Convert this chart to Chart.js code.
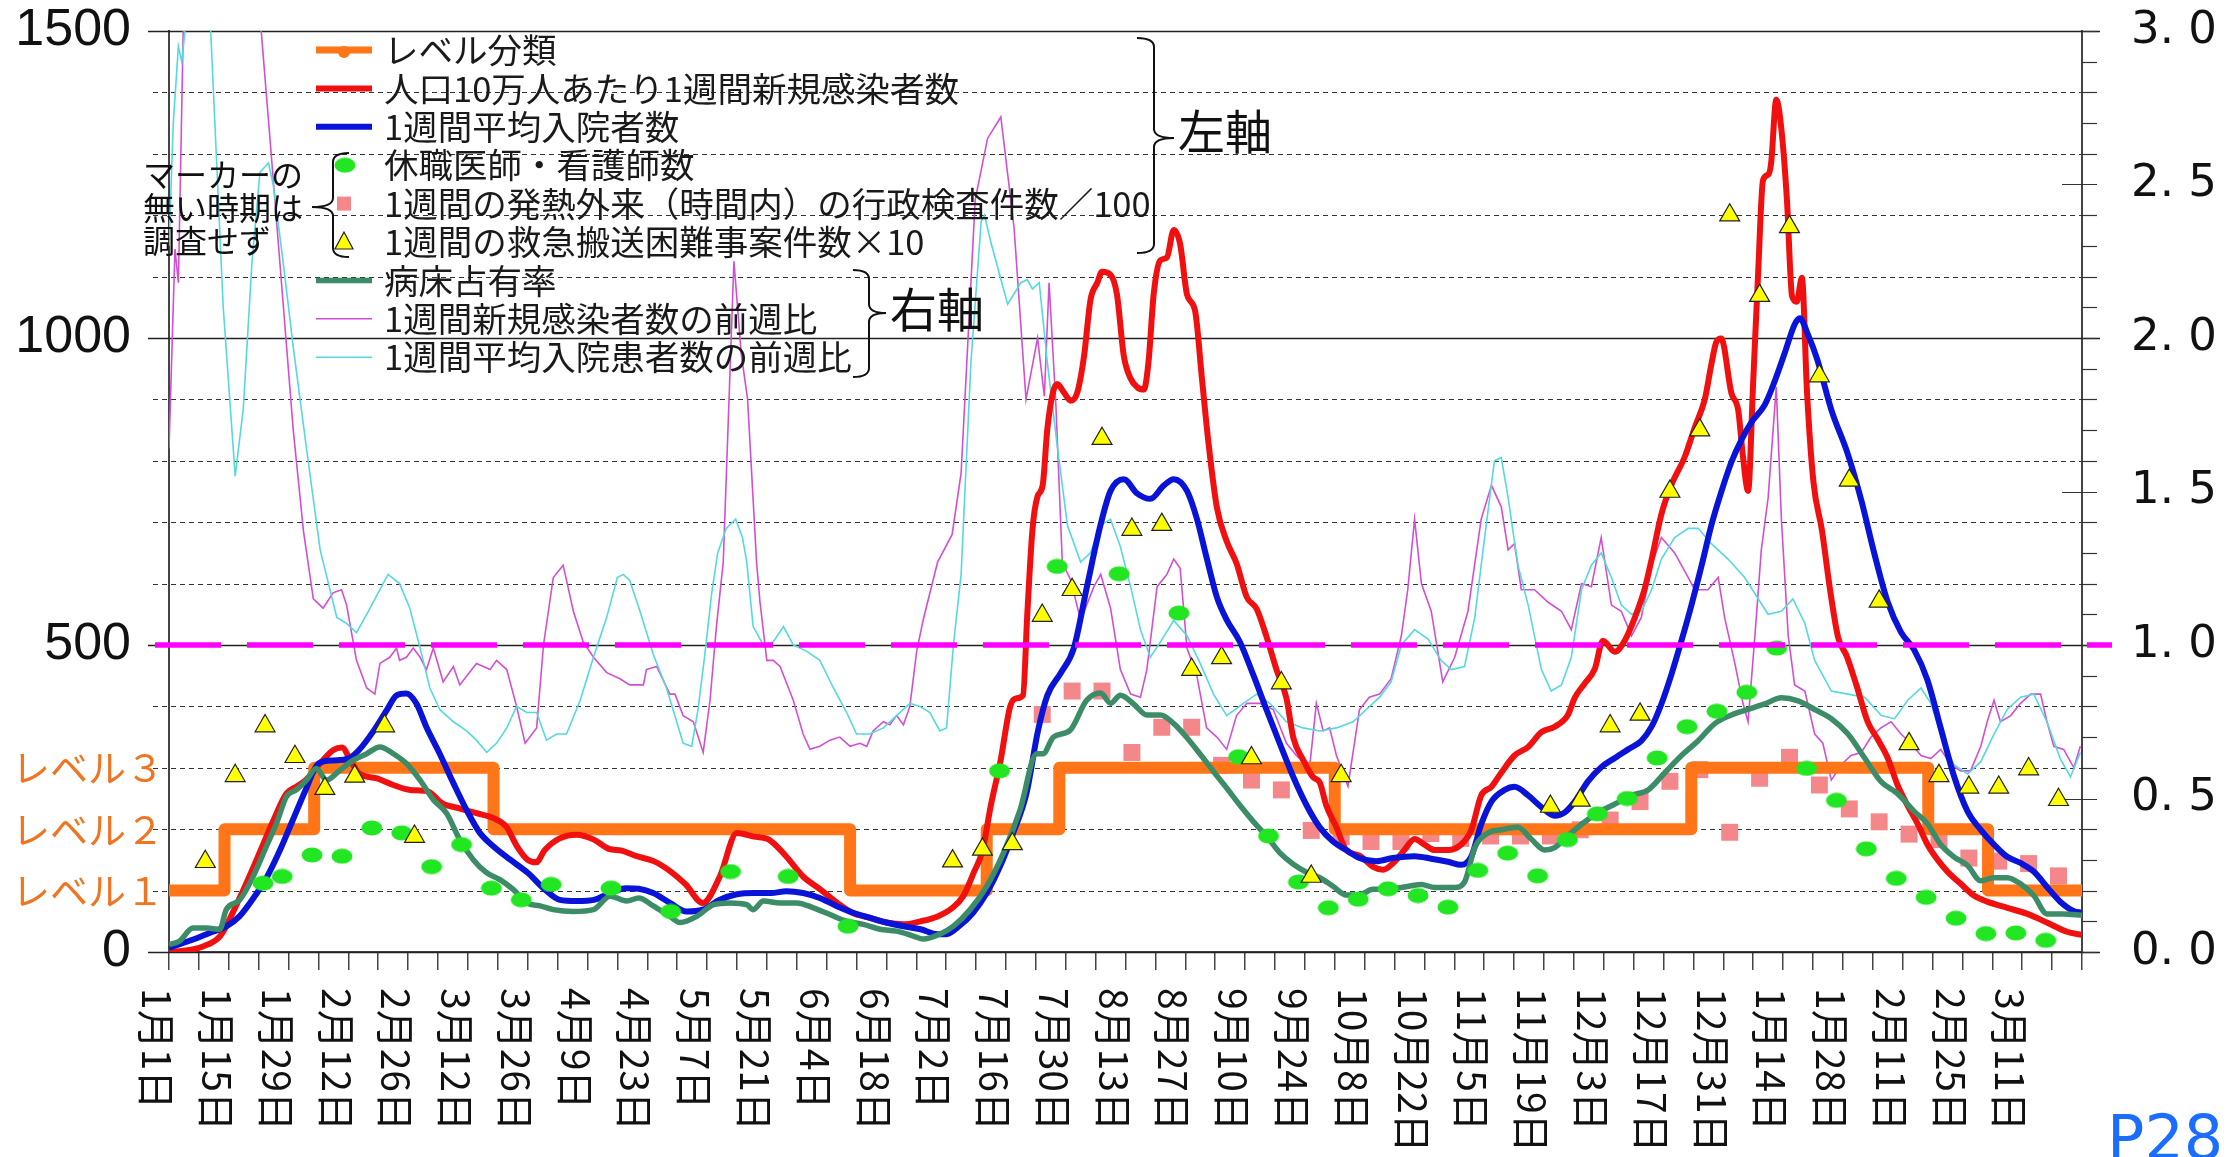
<!DOCTYPE html>
<html lang="ja">
<head>
<meta charset="UTF-8">
<title>レベル分類と各指標の推移</title>
<style>
  html, body { margin: 0; padding: 0; background: #fff; overflow: hidden; }
  canvas { display: block; }
</style>
</head>
<body>
<canvas id="chart" width="2228" height="1157"></canvas>
<script src="https://cdn.jsdelivr.net/npm/chart.js"></script>
<script>
// x = days since 2021-01-01, labels every 14 days
const dateLabels = ['1月1日', '1月15日', '1月29日', '2月12日', '2月26日', '3月12日', '3月26日', '4月9日',
  '4月23日', '5月7日', '5月21日', '6月4日', '6月18日', '7月2日', '7月16日', '7月30日', '8月13日', '8月27日',
  '9月10日', '9月24日', '10月8日', '10月22日', '11月5日', '11月19日', '12月3日', '12月17日', '12月31日',
  '1月14日', '1月28日', '2月11日', '2月25日', '3月11日'];
const labelStep = 14;
const lastDay = 448;
const leftAxisLabels = ['0', '500', '1000', '1500'];
const rightAxisLabels = ['0. 0', '0. 5', '1. 0', '1. 5', '2. 0', '2. 5', '3. 0'];
const levelLabels = ['レベル１', 'レベル２', 'レベル３'];
const thresholdRatio = 1.0;

const levelChangeDays = [0, 13, 34, 76, 159.5, 191.5, 208.5, 273, 356.5, 412, 426, 448];
const levelValues = [1, 2, 3, 2, 1, 2, 3, 2, 3, 2, 1, 1];

// 人口10万人あたり1週間新規感染者数 (left axis)
const newCases = [[0,0],[5.5,4],[9,12],[12,26],[16,80],[20.5,150],[24.5,215],[27.5,258],[30,270],[32,280],[36,312],
  [38.5,329],[40.5,333],[42.5,312],[44.5,291],[48.5,283],[52.5,272],[56.5,264],[60.5,262],[64,242],[68,234],[72,226],
  [76,218],[79,204],[81.5,172],[84,150],[86,146],[88,166],[91.5,185],[95.5,191],[99.5,183],[103,168],[106,165],
  [109.5,156],[113.5,148],[117.5,131],[121,110],[125,80],[129,123],[133,194],[137,188],[140.5,183],[144.5,156],
  [148.5,123],[152.5,102],[156.5,80],[160,64],[164,56],[168,48],[172,45],[176,50],[180,58],[183.5,72],[186,91],
  [188.5,130],[190.5,165],[192.5,240],[194.7,310],[197,400],[198.3,413],[200,418],[201,550],[202.2,687],[203.4,742],
  [204.6,760],[205.7,852],[207,911],[208,925],[209.6,911],[211.2,898],[212.7,911],[214.3,971],[215.8,1062],
  [217.4,1090],[218.5,1108],[220.5,1103],[222,1071],[223.6,971],[225.2,934],[226.7,920],[228.3,916],[229.4,962],
  [230.6,1071],[232.1,1126],[233.7,1131],[235.3,1176],[236.8,1153],[238.4,1071],[240.3,1044],[241.9,934],
  [243.5,825],[245.4,724],[247.7,669],[250,633],[252.4,578],[254.7,559],[257,514],[259.4,459],[261.7,413],
  [263.3,349],[265.6,313],[267.9,285],[269.5,276],[271,239],[273.4,203],[275.7,166],[278.8,157],[281.9,139],
  [284.3,134],[287,147],[289.3,166],[291.7,184],[294,175],[296.4,166],[299.5,166],[302.6,175],[305,199],[307.3,255],
  [309.7,269],[312,292],[315.1,320],[318.3,334],[321.4,358],[324.5,367],[327.6,386],[329.2,414],[331.5,437],
  [333.9,461],[335.8,507],[338.6,489],[340.9,507],[343.3,545],[345.6,592],[347.2,639],[349.5,713],[351.8,760],
  [355,807],[357.3,854],[359.7,901],[361.2,957],[362.4,994],[363.5,999],[365.9,910],[367.5,882],[368.6,807],
  [369.8,751],[371,929],[372.1,1097],[373.3,1257],[374.5,1266],[375.2,1285],[376.4,1388],[377.6,1340],[378.9,1225],
  [380.1,1068],[381.2,1059],[382.4,1098],[383.6,912],[385.1,766],[387.1,687],[389,590],[390.9,512],[392.9,482],
  [395.2,434],[397.8,375],[400.2,346],[402.5,316],[404.8,272],[407.2,238],[409.5,209],[411.8,175],[414.2,150],
  [416.5,131],[419.6,111],[422.7,92],[425.8,82],[430.5,72],[435.2,62],[439.8,48],[444.5,33],[448,28]];

// 1週間平均入院者数 (left axis)
const inpatients = [[0,7],[5.5,20],[9.5,31],[13.5,42],[16.5,58],[19.5,85],[23,123],[26,166],[29,215],[32,264],
  [35,307],[38.5,312],[42,315],[44.5,329],[48,361],[51,394],[53.3,418],[55.6,421],[58,404],[60.3,366],[63.4,323],
  [66.6,275],[69.7,231],[72.8,194],[76,172],[80,150],[84,129],[88,102],[91.5,85],[95.5,83],[99.5,85],[103.3,96],
  [107,104],[110,103],[113.4,96],[117.3,80],[121.2,66],[125,69],[129,85],[133,94],[137,96],[141,96],[144.6,99],
  [148.5,96],[152.4,88],[156.3,75],[160.2,64],[164,56],[168,48],[172,42],[176,37],[180,29],[182,29],[185,42],
  [188.3,64],[191.5,96],[194.6,139],[197.7,194],[200.8,258],[203.5,360],[205.7,418],[208.8,454],[211.9,495],
  [215,596],[218.2,697],[220.5,751],[223.6,770],[226.7,747],[229.8,738],[233,760],[235.3,770],[238.4,751],
  [240.7,706],[243,642],[245.4,578],[247.7,541],[250.8,505],[254,450],[257,395],[260.1,340],[263.3,285],[266.4,239],
  [269.5,203],[272.6,180],[275.7,166],[278.8,153],[282.7,148],[286.6,153],[291.7,156],[295.6,152],[299.5,147],
  [302.6,142],[305,156],[307.3,208],[309.7,245],[312.8,264],[315.1,269],[318.3,255],[321.4,236],[324.5,222],
  [326.8,227],[329.2,245],[332.3,278],[335.4,301],[338.6,316],[341.7,330],[344.8,344],[347.2,367],[349.5,404],
  [351.8,451],[354.2,507],[356.5,564],[358.9,629],[361.2,695],[363.6,751],[365.9,798],[368.3,835],[370.6,863],
  [373.7,891],[376,929],[378.4,976],[380.7,1022],[381.9,1032],[383.9,1004],[386,965],[389.3,883],[393.2,810],
  [396.3,736],[399.4,648],[402.5,570],[405.6,521],[408.7,492],[411.8,443],[414.9,365],[418,287],[421.2,229],
  [424.3,199],[427.4,175],[430.5,155],[433.6,145],[436.7,131],[439.8,106],[442.9,82],[446,67],[448,64]];

// 休職医師・看護師数 (left axis)
const staffOnLeave = [[22,112],[26.5,123],[33.5,158],[40.5,156],[47.5,202],[54.5,194],[61.5,139],[68.5,175],
  [75.5,104],[82.5,85],[89.5,110],[103.5,104],[117.5,66],[131.5,131],[145,123],[159,42],[194.5,295],[208,628],
  [222.5,616],[236.5,552],[250.5,318],[257.5,189],[264.5,114],[271.5,72],[278.5,86],[285.5,103],[292.5,92],
  [299.5,73],[306.5,133],[313.5,161],[320.5,124],[327.5,183],[334.5,225],[341.5,250],[348.5,316],[355.5,367],
  [362.5,392],[369.5,423],[376.5,495],[383.5,299],[390.5,247],[397.5,168],[404.5,120],[411.5,89],[418.5,55],
  [425.5,30],[432.5,31],[439.5,19]];

// 1週間の発熱外来（時間内）の行政検査件数／100 (left axis)
const feverTests = [[204.5,387],[211.5,425],[218.5,425],[225.5,325],[232.5,366],[239.5,366],[246.5,304],[253.5,280],
  [260.5,264],[267.5,198],[274.5,188],[281.5,180],[288.5,180],[295.5,193],[302.5,185],[309.5,189],[316.5,189],
  [323.5,189],[330.5,199],[337.5,215],[344.5,245],[351.5,278],[358.5,297],[365.5,195],[372.5,283],[379.5,317],
  [386.5,272],[393.5,233],[400.5,212],[407.5,192],[414.5,183],[421.5,153],[428.5,148],[435.5,144],[442.5,124]];

// 1週間の救急搬送困難事案件数×10 (left axis)
const transportCases = [[8.5,147],[15.5,287],[22.5,368],[29.5,318],[36.5,266],[43.5,286],[50.5,368],[57.5,188],
  [183.5,148],[190.5,167],[197.5,176],[204.5,548],[211.5,590],[218.5,836],[225.5,688],[232.5,696],[239.5,460],
  [246.5,479],[253.5,316],[260.5,438],[267.5,123],[274.5,287],[323.5,237],[330.5,247],[337.5,368],[344.5,387],
  [351.5,750],[358.5,850],[365.5,1200],[372.5,1069],[379.5,1181],[386.5,938],[393.5,768],[400.5,571],[407.5,339],
  [414.5,287],[421.5,268],[428.5,268],[435.5,298],[442.5,248]];

// 病床占有率 (right axis)
const bedOccupancy = [[0,0.024],[2.5,0.036],[5.6,0.078],[8.8,0.078],[11.9,0.074],[13.4,0.138],[16.6,0.17],
  [19.7,0.246],[22.8,0.344],[25.2,0.42],[27.5,0.506],[29.8,0.528],[32.2,0.56],[34.5,0.598],[36.9,0.56],[40,0.592],
  [43.1,0.624],[46.3,0.646],[49.4,0.668],[52.5,0.646],[55.6,0.614],[58.8,0.56],[61.9,0.496],[65,0.452],[68.1,0.366],
  [71.3,0.3],[74.4,0.258],[77.5,0.236],[80.6,0.204],[83.8,0.16],[86.9,0.15],[90,0.138],[94.7,0.132],[99.4,0.138],
  [103.3,0.182],[107.2,0.166],[110,0.176],[113.4,0.15],[117.3,0.116],[119.7,0.096],[123.6,0.116],[127.5,0.154],
  [131.4,0.16],[135.3,0.154],[136.8,0.138],[139.2,0.166],[143.1,0.16],[147,0.16],[150.9,0.144],[154.8,0.122],
  [158.7,0.1],[162.6,0.09],[166.5,0.074],[170.4,0.068],[174.3,0.052],[176.6,0.042],[180.5,0.058],[183.7,0.084],
  [187.6,0.138],[191.5,0.214],[195.4,0.322],[199.3,0.462],[203.2,0.646],[204.7,0.646],[207.1,0.7],[211,0.722],
  [214.9,0.82],[218.2,0.844],[220.5,0.81],[222.8,0.836],[225.9,0.808],[229,0.772],[232.2,0.772],[235.3,0.744],
  [238.4,0.698],[241.5,0.644],[244.6,0.588],[247.7,0.534],[250.8,0.478],[254,0.424],[257,0.378],[260.1,0.324],
  [263.3,0.286],[266.4,0.26],[269.5,0.242],[272.6,0.214],[275.7,0.186],[278.8,0.186],[281.9,0.204],[285,0.204],
  [288.6,0.21],[293.3,0.22],[296.4,0.21],[301.1,0.21],[303.4,0.228],[305.8,0.34],[308.9,0.388],[312,0.398],
  [315.9,0.406],[319,0.368],[322.2,0.332],[324.5,0.34],[327.6,0.378],[330.8,0.416],[334.7,0.454],[338.6,0.482],
  [342.5,0.51],[346.4,0.528],[350.3,0.584],[354.2,0.64],[358.1,0.688],[362,0.744],[365.9,0.772],[369.8,0.79],
  [373.7,0.808],[377.6,0.828],[381.5,0.818],[385.4,0.79],[389.3,0.76],[393.2,0.71],[397.1,0.632],[401,0.554],
  [404.8,0.516],[408.7,0.458],[411.8,0.418],[414.9,0.35],[418,0.31],[421.2,0.282],[424.3,0.232],[427.4,0.242],
  [430.5,0.242],[433.6,0.222],[436.7,0.184],[439.8,0.124],[443.7,0.124],[448,0.12]];

// 1週間新規感染者数の前週比 (right axis)
const casesRatio = [[0,1.64],[1.4,2.29],[2.2,2.18],[3.4,3.05],[5,3.4],[21.3,3.05],[23.7,2.64],[26.8,2.1],[29.1,1.7],
  [31.5,1.37],[33.8,1.15],[36.1,1.12],[38.4,1.17],[40.4,1.18],[41.6,1.13],[43.9,0.95],[46.3,0.86],[48.2,0.84],
  [49.4,0.94],[51.7,0.96],[53.3,0.99],[54,0.95],[55.6,0.96],[57.2,0.99],[58.8,0.96],[60.3,0.92],[61.9,0.99],
  [64.2,0.88],[66.6,0.93],[68.1,0.87],[72,0.94],[75.2,0.92],[76.7,0.95],[79.1,0.92],[81.4,0.8],[83.4,0.68],
  [86.1,0.73],[87.7,1.0],[90,1.22],[92.3,1.26],[94.7,1.11],[97,1.01],[99.4,0.96],[102.5,0.91],[105.6,0.89],
  [107.9,0.87],[111.1,0.87],[111.8,0.92],[114.2,0.93],[117.3,0.84],[118.5,0.84],[120.4,0.77],[122.8,0.75],
  [125.1,0.65],[126.7,0.82],[128.2,1.06],[129.8,1.27],[132.3,2.25],[134,1.95],[135.5,1.8],[137.6,1.27],[138.4,1.14],
  [140,0.95],[141.5,0.95],[143.1,0.93],[146.2,0.82],[148.5,0.71],[150.1,0.66],[152.4,0.67],[154.8,0.69],[157.1,0.7],
  [159.5,0.67],[161.8,0.68],[163.4,0.67],[164.9,0.72],[167.3,0.75],[168.8,0.74],[170.4,0.77],[172,0.74],[173.5,0.8],
  [175.1,0.98],[176.6,1.08],[178.2,1.17],[180,1.27],[183.4,1.36],[185.5,1.56],[188.8,2.45],[191.7,2.65],
  [194.8,2.72],[197.9,2.36],[200.7,1.8],[203.4,2.0],[205,1.81],[206.1,2.18],[207.7,1.78],[209.2,1.27],[211.2,1.21],
  [213.5,1.08],[216.6,1.19],[218.2,1.23],[220.5,1.12],[222.8,0.92],[225.2,0.84],[227.5,0.83],[229,0.92],
  [231.4,1.19],[233.7,1.23],[235.3,1.28],[236.8,1.25],[238.4,0.99],[240.7,0.9],[243,0.73],[245.4,0.7],[247.7,0.66],
  [250,0.77],[252.4,0.81],[255.5,0.81],[258.6,0.79],[261.7,0.68],[264,0.64],[267.1,0.6],[268.7,0.81],[270.3,0.72],
  [271.8,0.73],[273.4,0.64],[276.1,0.54],[278.8,0.79],[281.1,0.83],[283.5,0.84],[286.2,0.89],[288.6,1.03],
  [290.1,1.18],[291.7,1.41],[293.3,1.2],[295.6,1.11],[298.3,0.88],[301.1,0.96],[304.2,1.11],[307.3,1.41],
  [309.7,1.52],[312,1.45],[313.6,1.31],[315.1,1.33],[316.7,1.18],[319.8,1.18],[322.9,1.14],[326.1,1.11],
  [328.4,1.05],[330.8,1.2],[333.1,1.19],[335.4,1.35],[337.8,1.13],[340.1,1.11],[342.5,1.03],[344.8,1.09],
  [347.2,1.26],[349.5,1.35],[352.6,1.3],[355,1.24],[357.3,1.18],[360.4,1.18],[362.8,1.22],[364.3,1.09],
  [366.7,0.94],[368.6,0.81],[369.8,0.75],[371.4,1.03],[372.9,1.31],[374.5,1.48],[376.4,1.84],[377.6,1.41],
  [379.2,1.03],[380.7,0.87],[383.1,0.85],[385.4,0.71],[387.3,0.68],[389.3,0.56],[391.6,0.61],[393.9,0.64],
  [396.3,0.65],[398.6,0.7],[400.9,0.73],[403.3,0.75],[405.6,0.71],[407.9,0.68],[410.3,0.64],[412.6,0.63],
  [414.9,0.66],[417.3,0.61],[419.6,0.59],[421.9,0.59],[424.3,0.67],[425.8,0.75],[427.4,0.82],[428.9,0.75],
  [431.3,0.77],[433.6,0.81],[436,0.84],[438.3,0.84],[439.8,0.75],[441.4,0.67],[443.7,0.66],[446.1,0.6],[447.6,0.67]];

// 1週間平均入院患者数の前週比 (right axis)
const inpatientRatio = [[0,2.3],[1,2.7],[2.2,2.95],[3,2.9],[4.1,3.05],[5,3.4],[9.6,3.05],[12.7,2.1],[15.5,1.55],
  [17.4,1.77],[19.4,2.24],[21.3,2.54],[23.3,2.57],[24.4,2.5],[26.8,2.24],[29.1,1.97],[32.2,1.64],[35.4,1.31],
  [39.3,1.09],[41.6,1.07],[43.9,1.04],[46.3,1.1],[48.6,1.16],[51.3,1.23],[54,1.2],[56.4,1.12],[58.8,0.99],
  [61.1,0.86],[63.4,0.79],[66.6,0.75],[69.7,0.72],[72,0.69],[74.4,0.65],[76.7,0.68],[79.1,0.73],[81.4,0.8],
  [83.8,0.78],[86.1,0.78],[88.4,0.69],[90.8,0.71],[93.1,0.71],[96.3,0.82],[99.4,0.96],[102.5,1.09],[105,1.22],
  [106.4,1.23],[107.9,1.21],[110.3,1.11],[113.4,0.97],[116.5,0.86],[118.9,0.75],[120.4,0.68],[122.4,0.67],
  [123.9,0.79],[125.5,0.97],[127.1,1.17],[128.5,1.3],[130.5,1.38],[132.7,1.41],[134.3,1.35],[135.3,1.27],
  [136.8,1.06],[139.2,1.0],[141.5,1.01],[143.9,1.06],[146.2,1.0],[149.3,0.98],[152.4,0.95],[155.6,0.86],
  [158.7,0.78],[161,0.71],[164.1,0.71],[167.3,0.73],[170.4,0.77],[173.5,0.81],[175.9,0.8],[178.2,0.78],
  [180.5,0.72],[182.1,0.73],[183.7,1.0],[185.5,1.23],[187.8,1.92],[190.2,2.38],[191,2.4],[192.5,2.31],[196.4,2.11],
  [199.5,2.18],[201,2.19],[202.2,2.16],[203.8,2.18],[205.7,1.92],[208,1.65],[210.4,1.39],[213.5,1.27],[215.8,1.3],
  [218.2,1.39],[220.5,1.41],[222.8,1.32],[225.2,1.19],[227.5,1.05],[229.8,0.96],[232.2,1.01],[235.3,1.08],
  [238.4,1.03],[241.5,0.94],[244.6,0.84],[247.7,0.77],[251.6,0.81],[254.7,0.84],[257.8,0.81],[261.7,0.75],
  [265.6,0.73],[269.5,0.72],[273.4,0.73],[277.3,0.75],[280.4,0.79],[283.5,0.83],[286.2,0.88],[288.6,1.0],
  [291.7,1.05],[294.8,1.02],[297.9,0.95],[300.3,0.92],[303.4,0.93],[305.8,1.09],[308.1,1.35],[310.4,1.6],[312,1.61],
  [313.6,1.48],[315.9,1.26],[318.3,1.13],[321.4,0.92],[323.7,0.85],[326.1,0.87],[328.4,0.96],[330.8,1.18],
  [333.1,1.26],[335.4,1.3],[337.8,1.22],[340.1,1.13],[342.5,1.1],[344.8,1.11],[347.2,1.18],[349.5,1.28],
  [352.6,1.35],[355.8,1.38],[358.1,1.38],[361.2,1.33],[365.1,1.28],[369,1.22],[372.2,1.15],[374.5,1.1],[377.6,1.11],
  [380.3,1.15],[383.1,1.07],[385.4,0.95],[389.3,0.85],[393.2,0.84],[397.1,0.83],[401,0.77],[404.1,0.76],
  [407.2,0.82],[410.3,0.86],[412.6,0.81],[414.9,0.71],[418,0.61],[421.2,0.58],[424.3,0.62],[427.4,0.71],
  [430.5,0.79],[433.6,0.83],[436.7,0.84],[439.8,0.75],[442.9,0.63],[445.3,0.57],[447.6,0.65]];

const markerNote = ['マーカーの', '無い時期は', '調査せず'];
const JP = '"Noto Sans CJK JP", "Noto Sans CJK SC", sans-serif';

const pts = arr => arr.map(([x, y]) => ({ x, y }));

// green ellipse marker
const greenDot = document.createElement('canvas');
greenDot.width = 22;
greenDot.height = 16;
(() => {
  const g = greenDot.getContext('2d');
  g.fillStyle = '#22e622';
  g.beginPath();
  g.ellipse(11, 8, 10.5, 7.5, 0, 0, Math.PI * 2);
  g.fill();
})();

function brace(ctx, x, top, bottom, tipY, dir, hook, tip) {
  // dir 1 = "}" (tip to the right), -1 = "{"
  const r = 9;
  ctx.beginPath();
  ctx.moveTo(x - dir * hook, top);
  ctx.quadraticCurveTo(x, top, x, top + r);
  ctx.lineTo(x, tipY - r);
  ctx.quadraticCurveTo(x, tipY, x + dir * tip, tipY);
  ctx.quadraticCurveTo(x, tipY, x, tipY + r);
  ctx.lineTo(x, bottom - r);
  ctx.quadraticCurveTo(x, bottom, x - dir * hook, bottom);
  ctx.stroke();
}

const decor = {
  id: 'decor',
  beforeDatasetsDraw(chart) {
    const { ctx, chartArea: a, scales: { y, y2 } } = chart;
    ctx.save();
    for (let v = y.min; v <= y.max; v += 100) {
      const py = Math.round(y.getPixelForValue(v)) + 0.5;
      ctx.beginPath();
      if (v % 500 === 0) {
        ctx.setLineDash([]);
        ctx.strokeStyle = '#222';
        ctx.lineWidth = 1.3;
        ctx.moveTo(a.left - 21, py);
        ctx.lineTo(a.right + 18, py);
      } else {
        ctx.setLineDash([5, 4]);
        ctx.strokeStyle = '#333';
        ctx.lineWidth = 1;
        ctx.moveTo(a.left - 16, py);
        ctx.lineTo(a.right, py);
      }
      ctx.stroke();
    }
    // right axis minor ticks every 0.1
    ctx.setLineDash([]);
    ctx.strokeStyle = '#333';
    ctx.lineWidth = 1.2;
    for (let k = 0; k <= 30; k++) {
      const py = Math.round(y2.getPixelForValue(k / 10)) + 0.5;
      ctx.beginPath();
      ctx.moveTo(k % 5 === 0 && k % 10 !== 0 ? a.right - 20 : a.right, py);
      ctx.lineTo(a.right + 15, py);
      ctx.stroke();
    }
    ctx.restore();
  },
  afterDatasetsDraw(chart) {
    const { ctx, chartArea: a, scales: { x, y, y2 } } = chart;
    ctx.save();

    // 1.0 threshold line
    const ty = y2.getPixelForValue(thresholdRatio);
    ctx.strokeStyle = '#ff00ff';
    ctx.lineWidth = 5.5;
    ctx.setLineDash([66, 26]);
    ctx.beginPath();
    ctx.moveTo(a.left - 14, ty);
    ctx.lineTo(a.right + 30, ty);
    ctx.stroke();
    ctx.setLineDash([]);

    // rotated date labels
    ctx.fillStyle = '#111';
    ctx.font = '39px ' + JP;
    ctx.textAlign = 'left';
    ctx.textBaseline = 'middle';
    dateLabels.forEach((lab, i) => {
      ctx.save();
      ctx.translate(x.getPixelForValue(i * labelStep) - 12, a.bottom + 36);
      ctx.rotate(Math.PI / 2);
      ctx.fillText(lab, 0, 0);
      ctx.restore();
    });

    // level labels
    ctx.fillStyle = '#f07522';
    ctx.font = '38px ' + JP;
    ctx.textAlign = 'right';
    levelLabels.forEach((lab, i) => {
      ctx.fillText(lab, a.left - 5, y.getPixelForValue((i + 1) * 100));
    });

    // legend
    const legendTop = 50, legendGap = 38.4, symX = 316, symW = 56, textX = 384;
    ctx.font = '34.5px ' + JP;
    ctx.textAlign = 'left';
    chart.data.datasets.forEach((ds, i) => {
      const cy = legendTop + i * legendGap;
      const cx = symX + symW / 2;
      if (ds.showLine === false) {
        if (ds.pointStyle === greenDot) {
          ctx.drawImage(greenDot, cx - 10, cy - 8);
        } else if (ds.pointStyle === 'rect') {
          ctx.fillStyle = ds.backgroundColor;
          ctx.fillRect(cx - 7, cy - 7, 14, 14);
        } else {
          ctx.fillStyle = ds.backgroundColor;
          ctx.strokeStyle = ds.borderColor;
          ctx.lineWidth = 1.2;
          ctx.beginPath();
          ctx.moveTo(cx, cy - 10);
          ctx.lineTo(cx + 9, cy + 7);
          ctx.lineTo(cx - 9, cy + 7);
          ctx.closePath();
          ctx.fill();
          ctx.stroke();
        }
      } else {
        ctx.strokeStyle = ds.borderColor;
        ctx.lineWidth = Math.min(ds.borderWidth, 7);
        ctx.lineCap = 'butt';
        ctx.beginPath();
        ctx.moveTo(symX, cy);
        ctx.lineTo(symX + symW, cy);
        ctx.stroke();
        if (ds.stepped) {
          ctx.fillStyle = ds.borderColor;
          ctx.beginPath();
          ctx.arc(cx, cy + 2, 6, 0, Math.PI * 2);
          ctx.fill();
        }
      }
      ctx.fillStyle = '#1a1a1a';
      ctx.fillText(ds.label, textX, cy);
    });

    // brackets and notes
    ctx.strokeStyle = '#111';
    ctx.lineWidth = 2;
    brace(ctx, 1154, 38, 253, 138, 1, 17, 20);
    brace(ctx, 869, 270, 377, 313, 1, 16, 17);
    brace(ctx, 333, 153, 257, 207, -1, 16, 21);
    ctx.fillStyle = '#111';
    ctx.font = '47px ' + JP;
    ctx.fillText('左軸', 1178, 131);
    ctx.fillText('右軸', 890, 309);
    ctx.font = '32px ' + JP;
    markerNote.forEach((t, i) => ctx.fillText(t, 143, 175 + i * 33));

    ctx.fillStyle = '#1a6dff';
    ctx.font = '62px "DejaVu Sans", sans-serif';
    ctx.textBaseline = 'alphabetic';
    ctx.fillText('P28', 2107, 1159);
    ctx.restore();
  }
};

new Chart(document.getElementById('chart'), {
  type: 'line',
  data: {
    datasets: [
      {
        label: 'レベル分類',
        data: levelChangeDays.map((d, i) => ({ x: d, y: levelValues[i] * 100 })),
        stepped: 'before', borderColor: '#ff7518', borderWidth: 12,
        borderCapStyle: 'round', borderJoinStyle: 'round', pointRadius: 0, order: 5
      },
      {
        label: '人口10万人あたり1週間新規感染者数', data: pts(newCases),
        borderColor: '#f01010', borderWidth: 6, pointRadius: 0, cubicInterpolationMode: 'monotone', order: 4
      },
      {
        label: '1週間平均入院者数', data: pts(inpatients),
        borderColor: '#0a14d8', borderWidth: 6, pointRadius: 0, cubicInterpolationMode: 'monotone', order: 3
      },
      {
        label: '休職医師・看護師数', data: pts(staffOnLeave), showLine: false,
        pointStyle: greenDot, pointRadius: 8, backgroundColor: '#22e622', order: 1
      },
      {
        label: '1週間の発熱外来（時間内）の行政検査件数／100', data: pts(feverTests), showLine: false,
        pointStyle: 'rect', pointRadius: 12, backgroundColor: '#f4878a', borderWidth: 0, pointBorderWidth: 0, order: 6
      },
      {
        label: '1週間の救急搬送困難事案件数×10', data: pts(transportCases), showLine: false,
        pointStyle: 'triangle', pointRadius: 11.5, backgroundColor: '#ffff00', borderColor: '#222',
        pointBorderWidth: 1.2, order: 0
      },
      {
        label: '病床占有率', data: pts(bedOccupancy), yAxisID: 'y2',
        borderColor: '#3d8c68', borderWidth: 5.5, pointRadius: 0, cubicInterpolationMode: 'monotone', order: 2
      },
      {
        label: '1週間新規感染者数の前週比', data: pts(casesRatio), yAxisID: 'y2',
        borderColor: '#d24fd2', borderWidth: 1.6, pointRadius: 0, order: 8
      },
      {
        label: '1週間平均入院患者数の前週比', data: pts(inpatientRatio), yAxisID: 'y2',
        borderColor: '#55d8e0', borderWidth: 1.6, pointRadius: 0, order: 7
      }
    ]
  },
  options: {
    responsive: false,
    devicePixelRatio: 1,
    animation: false,
    events: [],
    layout: { padding: { top: 31, left: 0, right: 0, bottom: 0 }, autoPadding: false },
    plugins: { legend: { display: false }, tooltip: { enabled: false } },
    scales: {
      x: {
        type: 'linear', min: 0, max: lastDay,
        grid: { drawOnChartArea: false, drawTicks: true, tickLength: 18, color: '#444', lineWidth: 1.5 },
        border: { color: '#444', width: 2 },
        ticks: { display: false },
        afterBuildTicks: axis => {
          axis.ticks = [];
          for (let d = 0; d <= lastDay; d += 7) axis.ticks.push({ value: d });
        },
        afterFit: s => { s.height = 205; s.paddingLeft = 0; s.paddingRight = 0; }
      },
      y: {
        position: 'left', min: 0, max: 1500,
        grid: { display: false, drawTicks: false },
        border: { display: true, color: '#444', width: 2 },
        ticks: {
          stepSize: 500, padding: 38, color: '#111',
          font: { family: 'Liberation Sans', size: 52 },
          callback: (v, i) => leftAxisLabels[i]
        },
        afterFit: s => { s.width = 169; s.paddingTop = 0; s.paddingBottom = 0; }
      },
      y2: {
        position: 'right', min: 0, max: 3,
        grid: { display: false, drawTicks: false },
        border: { display: true, color: '#444', width: 2 },
        ticks: {
          stepSize: 0.5, padding: 49, color: '#111',
          font: { family: 'DejaVu Sans', size: 45 },
          callback: (v, i) => rightAxisLabels[i]
        },
        afterFit: s => { s.width = 146; s.paddingTop = 0; s.paddingBottom = 0; }
      }
    }
  },
  plugins: [decor]
});
</script>
</body>
</html>
